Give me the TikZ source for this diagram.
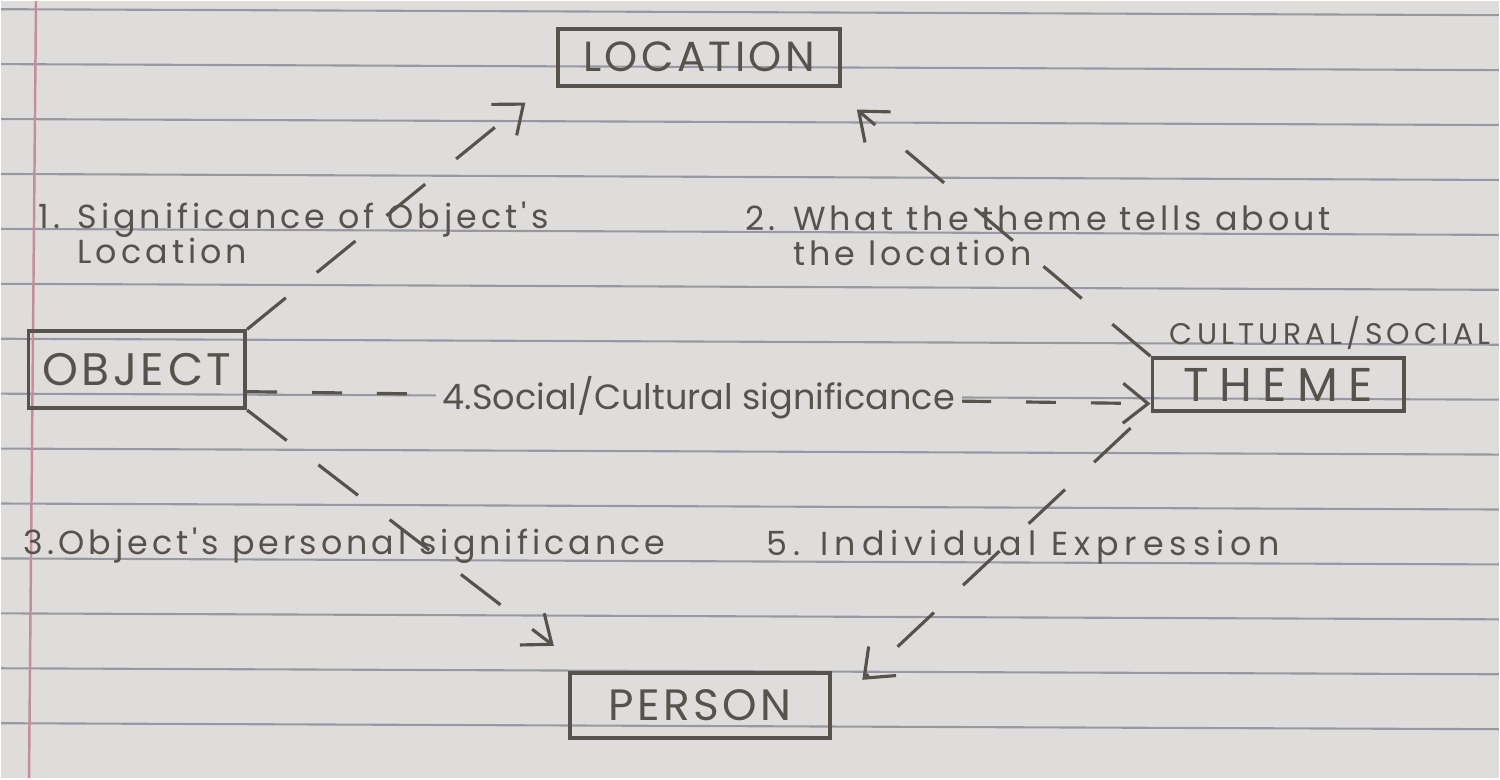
\documentclass[tikz,border=0pt]{standalone}
\usepackage{fontspec}
\setmainfont{Poppins}
\newfontfamily\boxfont[LetterSpace=8]{Poppins}
\newfontfamily\notefont[LetterSpace=12]{Poppins}
\usetikzlibrary{arrows.meta, positioning}
\definecolor{paper}{RGB}{223,221,219}
\definecolor{pencil}{RGB}{88,82,76}
\definecolor{ruling}{RGB}{152,152,164}
\definecolor{margin}{RGB}{198,140,152}
\tikzset{%
  >={Straight Barb[length=2.5mm,width=4mm]},
  % Specifications for style of nodes:
        box/.style = {rectangle, draw=pencil, line width=1.1pt,
                      inner sep=0pt, text=pencil},
       note/.style = {text=pencil, inner sep=0pt, align=left,
                      font=\notefont\fontsize{9.5}{10}\selectfont},
       caps/.style = {text=pencil, inner sep=0pt,
                      font=\boxfont\fontsize{8.5}{9}\addfontfeature{LetterSpace=14}\selectfont},
  % Specifications for style of connectors:
       link/.style = {->, draw=pencil, line width=0.9pt,
                      dash pattern=on 5mm off 4mm},
  shortlink/.style = {link, dash pattern=on 3mm off 3.5mm},
}

\begin{document}
\begin{tikzpicture}
  % ruled paper
  \fill[paper] (0,0) rectangle (15,7.78);
  \foreach \k in {0,...,13}
    \draw[ruling, line width=0.6pt] (0,7.70-0.55*\k) -- (15,7.64-0.55*\k);
  \draw[margin, line width=0.7pt] (0.35,7.78) -- (0.28,0);
  \useasboundingbox (0,0) rectangle (15,7.78);
  % Specification of nodes (position, etc.)
  \node (loc)    [box, minimum width=2.82cm, minimum height=0.57cm,
                  font=\boxfont\fontsize{12}{12}\selectfont] at (6.99,7.22) {LOCATION};
  \node (obj)    [box, minimum width=2.17cm, minimum height=0.77cm,
                  font=\boxfont\fontsize{13}{13}\selectfont] at (1.36,4.09) {OBJECT};
  \node (theme)  [box, minimum width=2.52cm, minimum height=0.53cm,
                  font=\boxfont\fontsize{13.5}{13.5}\addfontfeature{LetterSpace=22}\selectfont]
                  at (12.79,3.94) {THEME};
  \node (person) [box, minimum width=2.61cm, minimum height=0.65cm,
                  font=\boxfont\fontsize{12.5}{12.5}\selectfont] at (7.00,0.73) {PERSON};
  \node (kind)   [caps, above=0.06cm of theme.north, xshift=0.52cm] {CULTURAL/SOCIAL};
  % labels of the numbered links
  \node (lab1) [note, anchor=north west] at (0.37,5.78)
        {1. Significance of Object's\\\phantom{1. }Location};
  \node (lab2) [note, anchor=north west] at (7.45,5.74)
        {2. What the theme tells about\\\phantom{2. }the location};
  \node (lab3) [note, anchor=west] at (0.22,2.33) {3.Object's personal significance};
  \node (lab5) [note, anchor=west, font=\notefont\fontsize{9.5}{10}\addfontfeature{LetterSpace=18}\selectfont]
        at (7.66,2.31) {5. Individual Expression};
  % Specification of lines between nodes specified above
  \draw[link] (obj.north east) -- ([shift={(-0.31cm,-0.15cm)}]loc.south west);
  \draw[link] (theme.north west) -- ([shift={(0.15cm,-0.22cm)}]loc.south east);
  \draw[shortlink] ([yshift=-0.22cm]obj.east) --
        node[note, fill=paper, inner xsep=2pt, font=\fontsize{10}{10}\selectfont]
        {4.Social/Cultural significance}
        ([yshift=-0.19cm]theme.west);
  \draw[link] (obj.south east) -- ([shift={(-0.14cm,0.25cm)}]person.north west);
  \draw[link] ([shift={(-0.2cm,-0.15cm)}]theme.south west) --
        ([shift={(0.3cm,-0.09cm)}]person.north east);
\end{tikzpicture}
\end{document}
